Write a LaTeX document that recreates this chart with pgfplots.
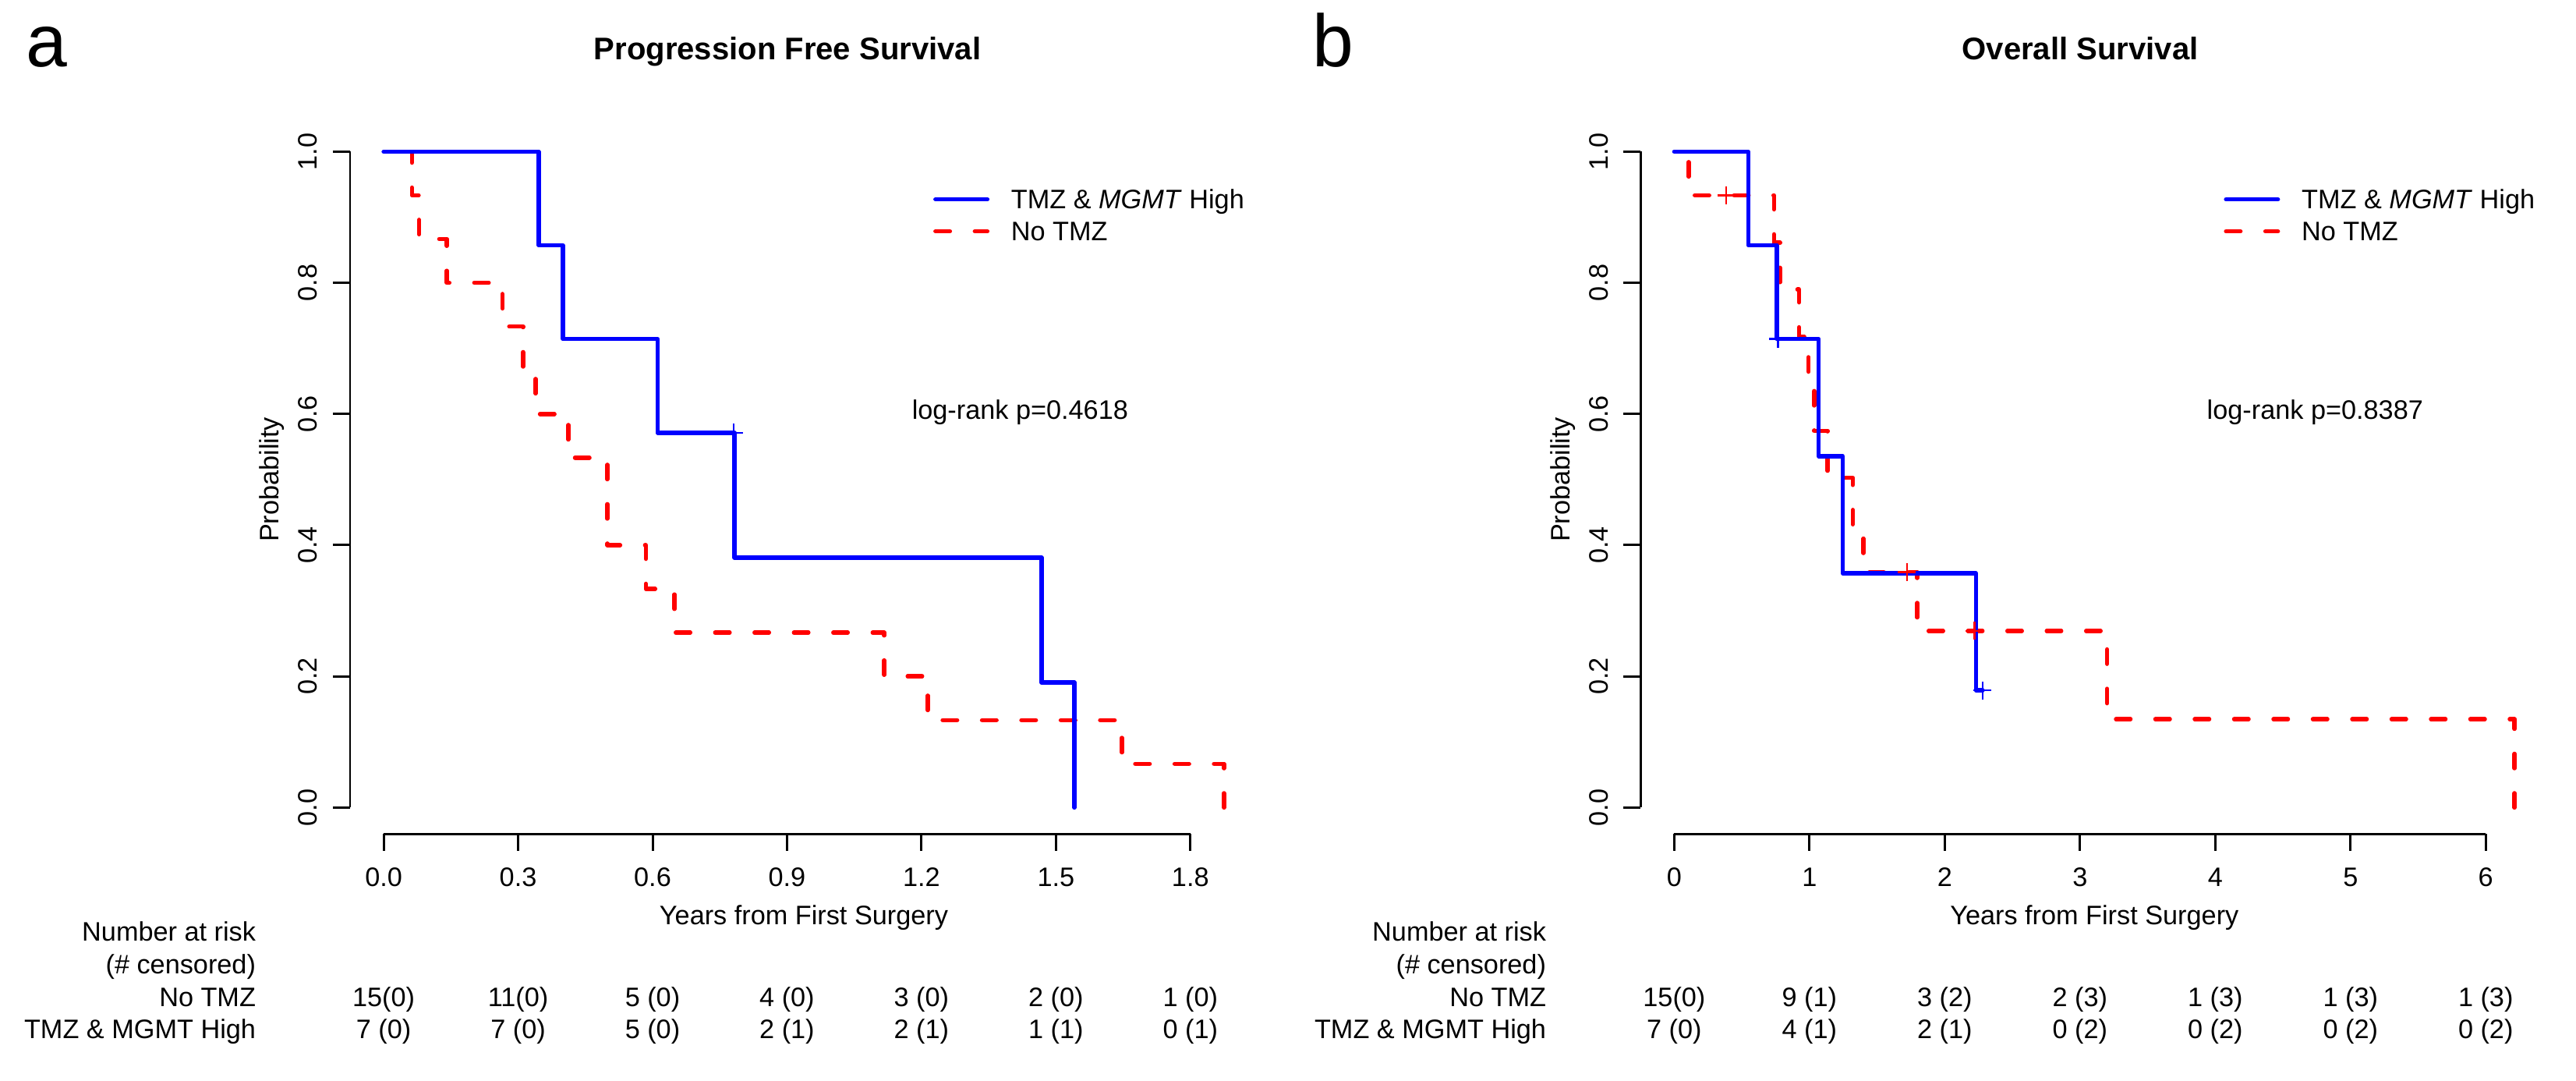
\documentclass[border=0pt]{standalone}
\usepackage{pgfplots}
\pgfplotsset{compat=1.18}
\usepackage{fontspec}
\setmainfont{Liberation Sans}

\newcommand{\lbl}{\fontsize{9.75pt}{11.7pt}\selectfont}
\definecolor{kmblue}{RGB}{0,0,255}
\definecolor{kmred}{RGB}{255,0,0}

\tikzset{txt/.style={font=\lbl, inner sep=0pt, outer sep=0pt}}

\pgfplotsset{
  kmaxis/.style={
    scale only axis, width=11.64cm, height=9.083cm,
    ymin=-0.04, ymax=1.04,
    clip=false,
    axis line style={draw=none},
    tick align=outside,
    major tick length=0.22cm,
    tick style={black, line width=0.03cm},
    xtick pos=bottom, ytick pos=left,
    ytick={0,0.2,0.4,0.6,0.8,1},
    yticklabels={0.0,0.2,0.4,0.6,0.8,1.0},
    /pgf/number format/assume math mode=true,
    ticklabel style={font=\lbl, inner sep=0pt},
    yticklabel style={rotate=90, anchor=south},
    xticklabel style={anchor=north},
    xticklabel shift=0.207cm,
    yticklabel shift=0.19cm,
    label style={font=\lbl, inner sep=0pt},
    xlabel style={at={(axis description cs:0.5,-0.1277)}, anchor=base},
    ylabel style={at={(axis description cs:-0.0782,0.5)}, anchor=base},
    title style={font=\fontsize{11.4pt}{13.7pt}\selectfont\bfseries, anchor=base, inner sep=0pt},
    legend style={at={(axis description cs:0.6427,0.909)}, anchor=north west,
      draw=none, fill=none, inner sep=0pt, outer sep=0pt, font=\lbl,
      row sep=0.164cm, column sep=0.2775cm,
      nodes={inner sep=0pt, text height=0.246cm, text depth=0pt}},
    legend cell align=left,
    legend image code/.code={\draw[##1] (0cm,0cm) -- (0.665cm,0cm);},
  },
  tmz/.style={kmblue, line width=0.055cm, line cap=round, line join=round},
  notmz/.style={kmred, line width=0.055cm, line cap=round, line join=round,
    dash pattern=on 0.185cm off 0.32cm},
  % phase chosen so that each dashed curve finishes with a dash at zero
  notmzcurve/.style={notmz, dash phase=0.186cm},
  censor/.style={only marks, mark=+, mark size=0.115cm,
    mark options={line width=0.025cm, solid}},
}

\begin{document}
\begin{tikzpicture}[x=1cm, y=1cm]
\useasboundingbox (0,0) rectangle (33.04,-13.85);

% panel letters
\node[anchor=base west, inner sep=0pt, font=\fontsize{27pt}{32pt}\selectfont] at (0.325,-0.85) {a};
\node[anchor=base west, inner sep=0pt, font=\fontsize{27pt}{32pt}\selectfont] at (16.83,-0.85) {b};

% ---------------- Progression free survival ----------------
\begin{axis}[kmaxis, at={(4.49cm,-10.69cm)}, anchor=south west,
  xmin=-0.075, xmax=1.95,
  xtick={0,0.3,0.6,0.9,1.2,1.5,1.8},
  xticklabels={0.0,0.3,0.6,0.9,1.2,1.5,1.8},
  xlabel={Years from First Surgery}, ylabel={Probability},
  title={Progression Free Survival},
  title style={at={(axis description cs:0.482,1.069)}}]
  \draw[line width=0.03cm] (axis cs:0,-0.04) -- (axis cs:1.8,-0.04);
  \draw[line width=0.03cm] (axis cs:-0.075,0) -- (axis cs:-0.075,1);

  % No TMZ (n = 15)
  \addplot[notmzcurve, const plot, forget plot] coordinates {
    (0,1) (0.063,0.9333) (0.079,0.8667) (0.141,0.8) (0.265,0.7333)
    (0.311,0.6667) (0.339,0.6) (0.412,0.5333) (0.499,0.4) (0.585,0.3333)
    (0.649,0.2667) (1.117,0.2) (1.214,0.1333) (1.647,0.0667) (1.875,0)};
  % TMZ & MGMT high (n = 7)
  \addplot[tmz, const plot, forget plot] coordinates {
    (0,1) (0.346,0.8571) (0.400,0.7143) (0.611,0.5714) (0.783,0.3810)
    (1.468,0.1905) (1.541,0)};
  \addplot[censor, kmblue, forget plot] coordinates {(0.781,0.5714)};

  \addlegendimage{tmz}
  \addlegendentry{TMZ \& \textit{MGMT} High}
  \addlegendimage{notmz}
  \addlegendentry{No TMZ}

  \node[txt, anchor=base] at (axis cs:1.420,0.5914) {log-rank p=0.4618};

  % number at risk
  \node[txt, anchor=base east] at (axis cs:-0.2855,-0.2040) {Number at risk};
  \node[txt, anchor=base east] at (axis cs:-0.2855,-0.2534) {(\# censored)};
  \node[txt, anchor=base east] at (axis cs:-0.2855,-0.3028) {No TMZ};
  \node[txt, anchor=base east] at (axis cs:-0.2855,-0.3521) {TMZ \& MGMT High};
  \node[txt, anchor=base] at (axis cs:0.0,-0.3028) {15(0)};
  \node[txt, anchor=base] at (axis cs:0.3,-0.3028) {11(0)};
  \node[txt, anchor=base] at (axis cs:0.6,-0.3028) {5 (0)};
  \node[txt, anchor=base] at (axis cs:0.9,-0.3028) {4 (0)};
  \node[txt, anchor=base] at (axis cs:1.2,-0.3028) {3 (0)};
  \node[txt, anchor=base] at (axis cs:1.5,-0.3028) {2 (0)};
  \node[txt, anchor=base] at (axis cs:1.8,-0.3028) {1 (0)};
  \node[txt, anchor=base] at (axis cs:0.0,-0.3521) {7 (0)};
  \node[txt, anchor=base] at (axis cs:0.3,-0.3521) {7 (0)};
  \node[txt, anchor=base] at (axis cs:0.6,-0.3521) {5 (0)};
  \node[txt, anchor=base] at (axis cs:0.9,-0.3521) {2 (1)};
  \node[txt, anchor=base] at (axis cs:1.2,-0.3521) {2 (1)};
  \node[txt, anchor=base] at (axis cs:1.5,-0.3521) {1 (1)};
  \node[txt, anchor=base] at (axis cs:1.8,-0.3521) {0 (1)};
\end{axis}

% ---------------- Overall survival ----------------
\begin{axis}[kmaxis, at={(21.043cm,-10.69cm)}, anchor=south west,
  xmin=-0.2485, xmax=6.4615,
  xtick={0,1,2,3,4,5,6},
  xticklabels={0,1,2,3,4,5,6},
  xlabel={Years from First Surgery}, ylabel={Probability},
  title={Overall Survival},
  title style={at={(axis description cs:0.4843,1.069)}}]
  \draw[line width=0.03cm] (axis cs:0,-0.04) -- (axis cs:6,-0.04);
  \draw[line width=0.03cm] (axis cs:-0.2485,0) -- (axis cs:-0.2485,1);

  % No TMZ (n = 15)
  \addplot[notmzcurve, const plot, forget plot] coordinates {
    (0,1) (0.106,0.9333) (0.737,0.8615) (0.781,0.7897) (0.923,0.7179)
    (0.993,0.6462) (1.034,0.5744) (1.134,0.5026) (1.320,0.4308)
    (1.399,0.3590) (1.797,0.2692) (3.20,0.1346) (6.213,0)};
  \addplot[censor, kmred, forget plot] coordinates {
    (0.384,0.9333) (1.72,0.3590) (2.22,0.2692)};
  % TMZ & MGMT high (n = 7)
  \addplot[tmz, const plot, forget plot] coordinates {
    (0,1) (0.547,0.8571) (0.759,0.7143) (1.068,0.5357) (1.245,0.3571)
    (2.23,0.1786) (2.28,0.1786)};
  \addplot[censor, kmblue, forget plot] coordinates {
    (0.768,0.7143) (2.28,0.1786)};

  \addlegendimage{tmz}
  \addlegendentry{TMZ \& \textit{MGMT} High}
  \addlegendimage{notmz}
  \addlegendentry{No TMZ}

  \node[txt, anchor=base] at (axis cs:4.738,0.5914) {log-rank p=0.8387};

  % number at risk
  \node[txt, anchor=base east] at (axis cs:-0.9477,-0.2040) {Number at risk};
  \node[txt, anchor=base east] at (axis cs:-0.9477,-0.2534) {(\# censored)};
  \node[txt, anchor=base east] at (axis cs:-0.9477,-0.3028) {No TMZ};
  \node[txt, anchor=base east] at (axis cs:-0.9477,-0.3521) {TMZ \& MGMT High};
  \node[txt, anchor=base] at (axis cs:0,-0.3028) {15(0)};
  \node[txt, anchor=base] at (axis cs:1,-0.3028) {9 (1)};
  \node[txt, anchor=base] at (axis cs:2,-0.3028) {3 (2)};
  \node[txt, anchor=base] at (axis cs:3,-0.3028) {2 (3)};
  \node[txt, anchor=base] at (axis cs:4,-0.3028) {1 (3)};
  \node[txt, anchor=base] at (axis cs:5,-0.3028) {1 (3)};
  \node[txt, anchor=base] at (axis cs:6,-0.3028) {1 (3)};
  \node[txt, anchor=base] at (axis cs:0,-0.3521) {7 (0)};
  \node[txt, anchor=base] at (axis cs:1,-0.3521) {4 (1)};
  \node[txt, anchor=base] at (axis cs:2,-0.3521) {2 (1)};
  \node[txt, anchor=base] at (axis cs:3,-0.3521) {0 (2)};
  \node[txt, anchor=base] at (axis cs:4,-0.3521) {0 (2)};
  \node[txt, anchor=base] at (axis cs:5,-0.3521) {0 (2)};
  \node[txt, anchor=base] at (axis cs:6,-0.3521) {0 (2)};
\end{axis}
\end{tikzpicture}
\end{document}
